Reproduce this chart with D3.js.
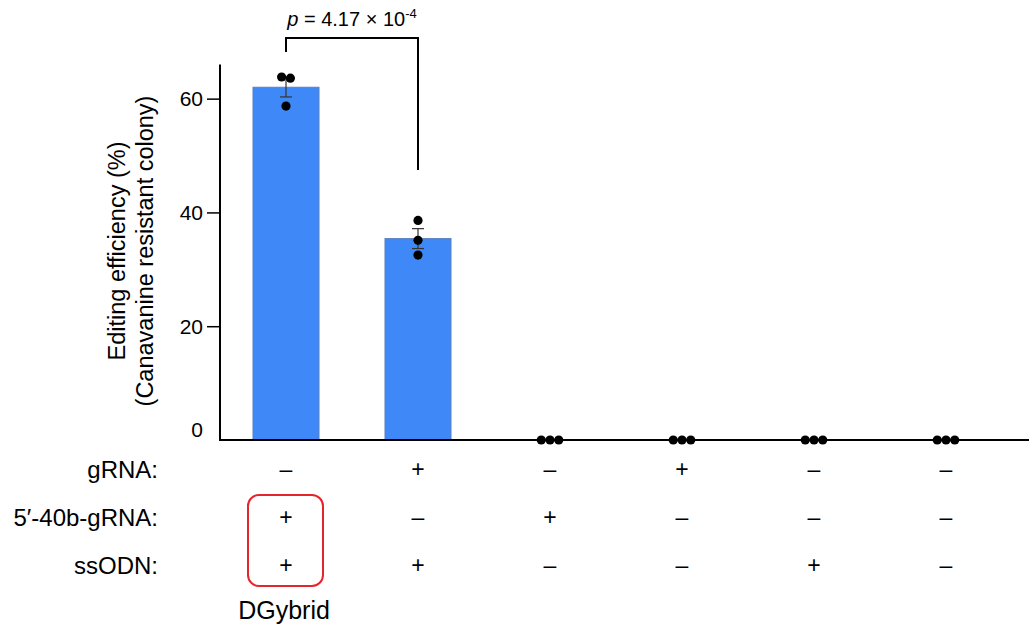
<!DOCTYPE html>
<html>
<head>
<meta charset="utf-8">
<script src="https://cdn.jsdelivr.net/npm/d3@7"></script>
<style>
  body { margin: 0; background: #fff; }
  svg { font-family: "Liberation Sans", Arial, sans-serif; }
</style>
</head>
<body>
<svg id="canvas" width="1035" height="627"></svg>
<script>
// data
const groups = ["g1", "g2", "g3", "g4", "g5", "g6"];
const means = [62.0, 35.4, 0, 0, 0, 0];
const sems = [1.7, 1.75, 0, 0, 0, 0];
const replicates = [
  [63.8, 63.6, 58.7],
  [38.6, 35.1, 32.5],
  [0, 0, 0],
  [0, 0, 0],
  [0, 0, 0],
  [0, 0, 0],
];
const yTicks = [0, 20, 40, 60];
const rowNames = ["gRNA:", "5\u2032-40b-gRNA:", "ssODN:"];
const rowSigns = [
  ["\u2013", "+", "\u2013", "+", "\u2013", "\u2013"],
  ["+", "\u2013", "+", "\u2013", "\u2013", "\u2013"],
  ["+", "+", "\u2013", "\u2013", "+", "\u2013"],
];
const pText = { base: "4.17 \u00d7 10", exp: "-4" };
const highlight = { group: 0, label: "DGybrid" };

const settings = {
  left: 220, right: 1029,
  bandEnd: 1012,
  y0: 440, yTop: 64.5,
  dotR: 4.6,
  rowY: [469, 517, 565],
};

const svg = d3.select("#canvas");

const x = d3.scaleBand()
  .domain(groups)
  .range([settings.left, settings.bandEnd])
  .paddingInner(0.5)
  .paddingOuter(0.25);

const y = d3.scaleLinear()
  .domain([0, 66])
  .range([settings.y0, settings.yTop]);

const cx = (i) => x(groups[i]) + x.bandwidth() / 2;

// bars
svg.append("g")
  .selectAll("rect")
  .data(means)
  .join("rect")
  .attr("x", (d, i) => x(groups[i]))
  .attr("y", d => y(d))
  .attr("width", x.bandwidth())
  .attr("height", d => y(0) - y(d))
  .attr("fill", "#3e89f7")
  .attr("stroke", "#5a7fbf")
  .attr("stroke-width", 1)
  .filter(d => d === 0).remove();

// error bars
const eb = svg.append("g")
  .attr("stroke", "#333")
  .attr("stroke-width", 1.2)
  .selectAll("g")
  .data(means.map((m, i) => ({ m, s: sems[i], i })).filter(d => d.s > 0))
  .join("g");
eb.append("line")
  .attr("x1", d => cx(d.i)).attr("x2", d => cx(d.i))
  .attr("y1", d => y(d.m - d.s)).attr("y2", d => y(d.m + d.s));
eb.selectAll(".cap")
  .data(d => [d.m - d.s, d.m + d.s].map(v => ({ v, i: d.i })))
  .join("line")
  .attr("class", "cap")
  .attr("x1", d => cx(d.i) - 6).attr("x2", d => cx(d.i) + 6)
  .attr("y1", d => y(d.v)).attr("y2", d => y(d.v));

// axes
svg.append("line")
  .attr("x1", settings.left).attr("x2", settings.right)
  .attr("y1", y(0)).attr("y2", y(0))
  .attr("stroke", "#000").attr("stroke-width", 2);

const yAxis = svg.append("g")
  .attr("transform", `translate(${settings.left},0)`)
  .call(d3.axisLeft(y).tickValues(yTicks).tickSize(13).tickPadding(4).tickSizeOuter(0));
yAxis.select(".domain")
  .attr("d", `M0,${settings.yTop}V${y(0) + 1}`)
  .attr("stroke-width", 2);
yAxis.selectAll(".tick line").attr("stroke-width", 1.5);
yAxis.selectAll(".tick").filter(d => d === 0).select("line").remove();
yAxis.selectAll(".tick text")
  .attr("font-size", 21)
  .attr("font-family", "Liberation Sans, Arial, sans-serif")
  .attr("dy", d => d === 0 ? "-0.15em" : "0.35em");

// dots, spread sideways where they would overlap
const dotData = [];
replicates.forEach((vals, i) => {
  const sorted = vals.map(v => ({ v, py: y(v) })).sort((a, b) => a.py - b.py);
  const clusters = [];
  sorted.forEach(p => {
    const last = clusters[clusters.length - 1];
    if (last && Math.abs(p.py - last[last.length - 1].py) < settings.dotR * 2) last.push(p);
    else clusters.push([p]);
  });
  clusters.forEach(c => c.forEach((p, j) => {
    dotData.push({ x: cx(i) + (j - (c.length - 1) / 2) * settings.dotR * 1.9, y: p.py });
  }));
});
svg.append("g")
  .selectAll("circle")
  .data(dotData)
  .join("circle")
  .attr("cx", d => d.x)
  .attr("cy", d => d.y)
  .attr("r", settings.dotR)
  .attr("fill", "#000");

// significance bracket
const bTop = 38;
svg.append("path")
  .attr("d", `M${cx(0)},52V${bTop}H${cx(1)}V170`)
  .attr("fill", "none")
  .attr("stroke", "#000")
  .attr("stroke-width", 2);
const pt = svg.append("text")
  .attr("x", (cx(0) + cx(1)) / 2)
  .attr("y", 26)
  .attr("text-anchor", "middle")
  .attr("font-size", 20);
pt.append("tspan").attr("font-style", "italic").text("p");
pt.append("tspan").text(" = " + pText.base);
pt.append("tspan").attr("font-size", 13).attr("dy", -8).text(pText.exp);

// y title
const yt = svg.append("text")
  .attr("transform", "translate(125,251) rotate(-90)")
  .attr("text-anchor", "middle")
  .attr("font-size", 23.5);
yt.append("tspan").attr("x", 0).attr("y", 0).text("Editing efficiency (%)");
yt.append("tspan").attr("x", 0).attr("y", 28).text("(Canavanine resistant colony)");

// condition table
svg.append("g")
  .selectAll("text")
  .data(rowNames)
  .join("text")
  .attr("x", 158)
  .attr("y", (d, r) => settings.rowY[r])
  .attr("dy", "0.36em")
  .attr("text-anchor", "end")
  .attr("font-size", 24)
  .text(d => d);

svg.append("g")
  .selectAll("g")
  .data(rowSigns)
  .join("g")
  .selectAll("text")
  .data((d, r) => d.map((s, i) => ({ s, i, r })))
  .join("text")
  .attr("x", d => cx(d.i))
  .attr("y", d => settings.rowY[d.r])
  .attr("dy", "0.36em")
  .attr("text-anchor", "middle")
  .attr("font-size", 23)
  .text(d => d.s);

// highlight box
const hx = cx(highlight.group);
svg.append("rect")
  .attr("x", hx - 38).attr("y", 495)
  .attr("width", 75).attr("height", 91)
  .attr("rx", 11)
  .attr("fill", "none")
  .attr("stroke", "#e3262d")
  .attr("stroke-width", 2);
svg.append("text")
  .attr("x", hx - 2)
  .attr("y", 619)
  .attr("text-anchor", "middle")
  .attr("font-size", 25)
  .text(highlight.label);
</script>
</body>
</html>
